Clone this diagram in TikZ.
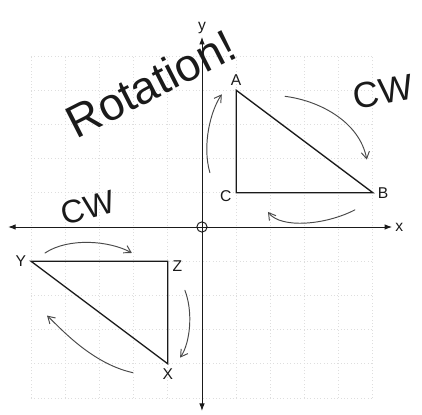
\documentclass[tikz,border=0pt]{standalone}
\usepackage{fontspec}
\setmainfont{Liberation Sans}
\usetikzlibrary{arrows.meta,positioning}
\definecolor{Ink}{HTML}{1A1A1A}
\definecolor{Pencil}{HTML}{4A4A4A}
\definecolor{GridGray}{HTML}{DEDEDE}

\begin{document}
\begin{tikzpicture}[
  font=\fontsize{13}{15}\selectfont,
  axis/.style={{Latex[length=2.2mm,width=1.6mm]}-{Latex[length=2.2mm,width=1.6mm]},thick,color=Ink},
  tri/.style={line width=1.1pt,color=Ink,line join=miter},
  turn/.style={-{Straight Barb[length=2mm,width=2.4mm]},thick,color=Pencil,line cap=round},
  lbl/.style={inner sep=1pt,color=Ink},
  hand/.style={font=\fontsize{30}{32}\selectfont,color=Ink,inner sep=0pt}
]
\useasboundingbox (-5.906,-5.497) rectangle (6.433,6.637);
\draw[GridGray,dotted,thick] (-5,-5) grid (5,5);

% axes
\coordinate (xl) at (-5.67,0);
\coordinate (xr) at (5.56,0);
\coordinate (yt) at (0,5.56);
\coordinate (yb) at (0,-5.38);
\draw[axis] (xl)--(xr);
\draw[axis] (yb)--(yt);
\node[lbl,right=0.5mm of xr] (xlab) {x};
\node[lbl,above=0.5mm of yt] (ylab) {y};
\node[circle,draw=Ink,thick,minimum size=3mm,inner sep=0pt] (orig) at (0,0) {};

% triangles
\coordinate (A) at (1,4);
\coordinate (B) at (5,1);
\coordinate (C) at (1,1);
\coordinate (X) at (-1,-4);
\coordinate (Y) at (-5,-1);
\coordinate (Z) at (-1,-1);
\draw[tri] (A)--(B)--(C)--cycle;
\draw[tri] (X)--(Y)--(Z)--cycle;
\node[lbl,above=1mm of A] (alab) {A};
\node[lbl,right=1mm of B] (blab) {B};
\node[lbl,left=1mm of C,yshift=-1mm] (clab) {C};
\node[lbl,below=1mm of X] (xlabel) {X};
\node[lbl,left=1mm of Y] (ylabel) {Y};
\node[lbl,right=1mm of Z,yshift=-1.5mm] (zlabel) {Z};

% rotation arrows
\coordinate (ca1) at (0.23,1.59);
\coordinate (ca2) at (0.58,3.88);
\coordinate (ab1) at (2.43,3.82);
\coordinate (ab2) at (4.82,1.97);
\coordinate (bc1) at (4.47,0.5);
\coordinate (bc2) at (1.93,0.44);
\coordinate (yz1) at (-4.59,-0.76);
\coordinate (yz2) at (-2.05,-0.76);
\coordinate (zx1) at (-0.5,-1.85);
\coordinate (zx2) at (-0.64,-3.82);
\coordinate (xy1) at (-2.02,-4.26);
\coordinate (xy2) at (-4.53,-2.59);
\draw[turn] (ca1) .. controls (0.0,2.4) and (0.25,3.4) .. (ca2);
\draw[turn] (ab1) .. controls (3.4,3.7) and (4.6,3.1) .. (ab2);
\draw[turn] (bc1) .. controls (3.6,0.05) and (2.3,-0.05) .. (bc2);
\draw[turn] (yz1) .. controls (-3.9,-0.3) and (-2.7,-0.4) .. (yz2);
\draw[turn] (zx1) .. controls (-0.25,-2.5) and (-0.35,-3.4) .. (zx2);
\draw[turn] (xy1) .. controls (-3.2,-4.0) and (-4.1,-3.0) .. (xy2);

% handwritten notes
\node[hand,rotate=27,font=\fontsize{38}{40}\selectfont] (rot) at (-1.5,4.2) {Rotation!};
\node[hand,rotate=10] (cwup) at (5.3,3.95) {CW};
\node[hand,rotate=15,font=\fontsize{27}{29}\selectfont] (cwlow) at (-3.33,0.55) {CW};
\end{tikzpicture}
\end{document}
